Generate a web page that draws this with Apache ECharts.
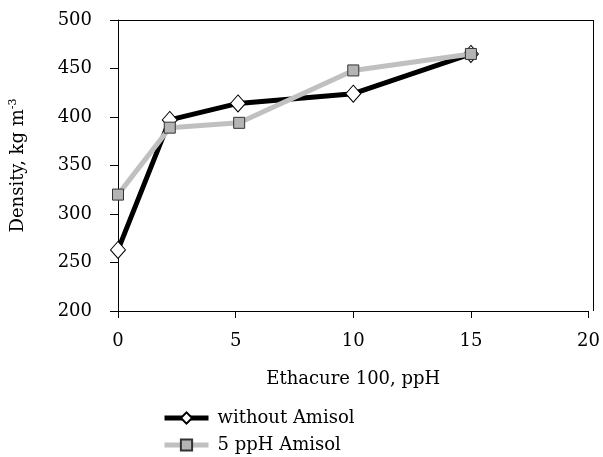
<!DOCTYPE html>
<html>
<head>
<meta charset="utf-8">
<script src="https://cdn.jsdelivr.net/npm/echarts@6/dist/echarts.min.js"></script>
<style>
html, body { margin: 0; padding: 0; background: #fff; }
#idChart { width: 603px; height: 457px; }
</style>
</head>
<body>
<div id="idChart"></div>
<script>
var xTicks = [0, 5, 10, 15, 20];
var yTicks = [200, 250, 300, 350, 400, 450, 500];

// Ethacure 100 (ppH) -> density (kg m-3)
var withoutAmisol = [[0, 263], [2.2, 397], [5.1, 414], [10, 424], [15, 465]];
var amisol5 = [[0, 320], [2.2, 389], [5.15, 394], [10, 448], [15, 465]];

var fontName = '"DejaVu Serif", "Liberation Serif", serif';

var myChart = echarts.init(document.getElementById('idChart'));

var Options = {
    animation: false,
    textStyle: { fontFamily: fontName, color: '#000' },
    grid: {
        left: 118,
        right: 10,
        top: 20,
        height: 291
    },
    xAxis: {
        type: 'value',
        min: xTicks[0],
        max: xTicks[xTicks.length - 1],
        interval: 5,
        name: 'Ethacure 100, ppH',
        nameLocation: 'middle',
        nameGap: 59,
        nameTextStyle: { fontSize: 18, fontFamily: fontName, color: '#000' },
        axisLine: { lineStyle: { color: '#000', width: 1 } },
        axisTick: { length: 7, lineStyle: { color: '#000' } },
        axisLabel: { fontSize: 18, margin: 21, color: '#000', fontFamily: fontName },
        splitLine: { show: false }
    },
    yAxis: {
        type: 'value',
        min: yTicks[0],
        max: yTicks[yTicks.length - 1],
        interval: 50,
        name: '{n|Density, kg m}{s|-3}',
        nameLocation: 'middle',
        nameGap: 89,
        nameRotate: 90,
        nameTextStyle: {
            fontFamily: fontName,
            color: '#000',
            rich: {
                n: { fontSize: 18, fontFamily: fontName, color: '#000' },
                s: { fontSize: 11, fontFamily: fontName, color: '#000', padding: [0, 0, 10, 0] }
            }
        },
        axisLine: { show: true, lineStyle: { color: '#000', width: 1 } },
        axisTick: { show: true, length: 8, lineStyle: { color: '#000' } },
        axisLabel: { fontSize: 18, margin: 26, color: '#000', fontFamily: fontName },
        splitLine: { show: false }
    },
    legend: {
        orient: 'vertical',
        left: 162,
        top: 409,
        padding: 0,
        itemWidth: 44,
        itemHeight: 14,
        itemGap: 9,
        textStyle: { fontSize: 18, fontFamily: fontName, color: '#000', padding: [0, 0, 0, 4] },
        data: [
            { name: 'without Amisol', lineStyle: { width: 5, color: '#000' } },
            { name: '5 ppH Amisol', lineStyle: { width: 5, color: '#c0c0c0' } }
        ]
    },
    series: [
        {
            name: 'without Amisol',
            type: 'line',
            data: withoutAmisol,
            symbol: 'diamond',
            symbolSize: [15, 17],
            lineStyle: { color: '#000', width: 5 },
            itemStyle: { color: '#fff', borderColor: '#000', borderWidth: 1 },
            z: 2
        },
        {
            name: '5 ppH Amisol',
            type: 'line',
            data: amisol5,
            symbol: 'rect',
            symbolSize: 11,
            lineStyle: { color: '#c0c0c0', width: 5 },
            itemStyle: { color: '#b4b4b4', borderColor: '#333', borderWidth: 1 },
            z: 3
        }
    ],
    graphic: [
        { type: 'line', shape: { x1: 118, y1: 20.5, x2: 593, y2: 20.5 }, style: { stroke: '#000', lineWidth: 1 } },
        { type: 'line', shape: { x1: 593.5, y1: 20, x2: 593.5, y2: 311 }, style: { stroke: '#000', lineWidth: 1 } }
    ]
};

myChart.setOption(Options);
</script>
</body>
</html>
